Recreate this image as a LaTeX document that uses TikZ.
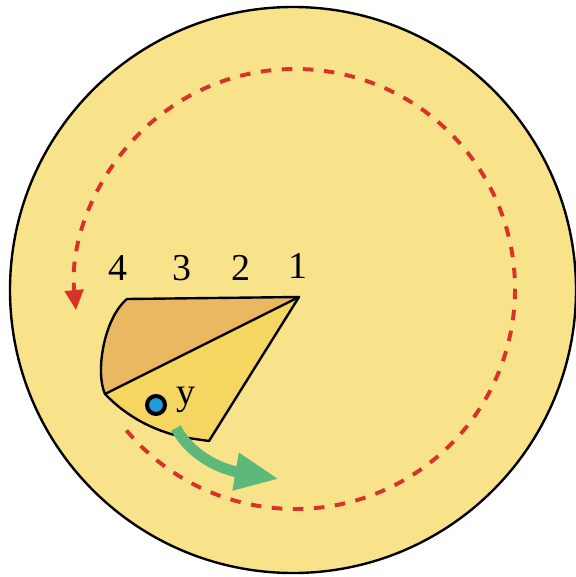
\documentclass[tikz,border=0pt]{standalone}
\usepackage{fontspec}
\setmainfont{Liberation Serif}
\usepackage{tikz}
\usetikzlibrary{arrows.meta, positioning, calc}
\definecolor{DiscYellow}{HTML}{F8E38A}
\definecolor{SectorOrange}{HTML}{E9B860}
\definecolor{SectorYellow}{HTML}{F5D660}
\definecolor{PathRed}{HTML}{D8322A}
\definecolor{FlowGreen}{HTML}{5DB87A}
\definecolor{DotBlue}{HTML}{1E9CD7}

\begin{document}
\begin{tikzpicture}[x=0.025cm, y=-0.025cm]
    \tikzstyle{numlabel} = [font=\fontsize{27}{31}\selectfont, inner sep=0pt]
    \tikzstyle{outline} = [draw=black, line width=1.7pt, line join=round]
    \tikzstyle{orbit} = [draw=PathRed, line width=2.8pt, dash pattern=on 7.5pt off 7.5pt, -{Triangle[length=0.5cm, width=0.46cm]}]
    \tikzstyle{flow} = [draw=FlowGreen, line width=0.27cm, -{Triangle[length=1.1cm, width=0.88cm]}]

    \useasboundingbox (0,0) rectangle (576,577);

    % disc
    \fill[DiscYellow] (293,290) circle[radius=283];
    \draw[outline] (293,290) circle[radius=283];

    % sector corners
    \coordinate (apex) at (299,297);
    \coordinate (topleft) at (127,299);
    \coordinate (leftlow) at (105,394);
    \coordinate (arcend) at (188,438);
    \coordinate (botright) at (209,441);

    \fill[SectorOrange] (apex) -- (topleft) .. controls (104,318) and (95,372) .. (leftlow) -- cycle;
    \fill[SectorYellow] (apex) -- (leftlow) .. controls (130,420) and (160,433) .. (arcend) -- (botright) -- cycle;
    \draw[outline] (apex) -- (topleft) .. controls (104,318) and (95,372) .. (leftlow)
        .. controls (130,420) and (160,433) .. (arcend) -- (botright) -- cycle;
    \draw[outline] (leftlow) -- (apex);

    % dashed orbit
    \path[orbit] (295,289) ++(140:220) arc[start angle=140, end angle=-185.5, radius=220];

    % labels
    \node[numlabel] (n4) at (118,268) {4};
    \node[numlabel] (n3) at (182,268) {3};
    \node[numlabel] (n2) at (241,268) {2};
    \node[numlabel] (n1) at (298,266) {1};

    % particle
    \node[circle, fill=DotBlue, draw=black, line width=0.1cm, minimum size=0.45cm, inner sep=0pt] (dot) at (156,405) {};
    \node[numlabel, right=0.22cm of dot, yshift=0.12cm] (ylab) {y};

    % green arrow
    \coordinate (flowstart) at (176,428);
    \coordinate (flowend) at (279,479);
    \path[flow] (flowstart) .. controls (190,455) and (220,469) .. (flowend);
\end{tikzpicture}
\end{document}
